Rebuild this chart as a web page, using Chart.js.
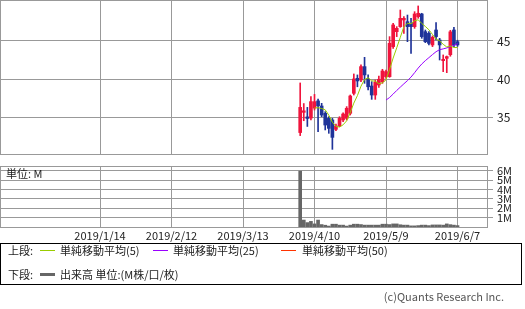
<!DOCTYPE html>
<html><head><meta charset="utf-8">
<script src="https://cdn.jsdelivr.net/npm/chart.js@4.4.0/dist/chart.umd.min.js"></script>
<style>
body{margin:0;background:#fff;width:525px;height:309px;overflow:hidden;position:relative;font-family:'Noto Sans CJK JP','Noto Sans',sans-serif;}
canvas{position:absolute;left:0;}
#c1{top:0}
#c2{top:160px}
.t{position:absolute;font-size:11px;line-height:13px;color:#222;white-space:nowrap;}
.ln{position:absolute;height:1px;}
#legend{position:absolute;left:0;top:243px;width:520px;height:40px;border:1px solid #000;}
</style></head><body>
<canvas id="c1" width="525" height="160"></canvas>
<canvas id="c2" width="525" height="85"></canvas>
<div class="t" style="left:6px;top:167px">単位: M</div>
<div id="legend"></div>
<div class="t" style="left:8px;top:244px">上段:</div>
<div class="ln" style="left:40px;top:250px;width:15px;background:#99cc00"></div>
<div class="t" style="left:60px;top:244px">単純移動平均(5)</div>
<div class="ln" style="left:153px;top:250px;width:15px;background:#9900ff"></div>
<div class="t" style="left:173px;top:244px">単純移動平均(25)</div>
<div class="ln" style="left:281px;top:250px;width:15px;background:#ff3300"></div>
<div class="t" style="left:302px;top:244px">単純移動平均(50)</div>
<div class="t" style="left:8px;top:268px">下段:</div>
<div class="ln" style="left:40px;top:273px;width:15px;height:3px;background:#666"></div>
<div class="t" style="left:60px;top:268px">出来高 単位:(M株/口/枚)</div>
<div class="t" style="right:21px;top:290px;color:#555">(c)Quants Research Inc.</div>
<script>
// ---- data ----
const tickIndex = [0, 20, 40, 60, 80, 100];
const tickLabels = ['2019/1/14', '2019/2/12', '2019/3/13', '2019/4/10', '2019/5/9', '2019/6/7'];
const priceTicks = [35, 40, 45];
const volumeTicks = [1, 2, 3, 4, 5, 6];
const firstIndex = 56;
const open  = [33.0,35.65,35.05,34.9,36.2,37.15,36.48,35.52,34.86,34.65,33.42,33.86,34.65,34.86,35.52,38.14,40.11,39.89,41.64,40.02,39.1,37.92,39.23,39.67,40.33,40.33,44.26,46.22,46.88,47.75,47.53,47.3,46.88,48.19,48.54,46.22,46.0,44.48,46.44,45.13,42.42,42.73,43.2,46.44,44.91];
const high  = [39.5,36.8,36.3,37.7,38.0,37.4,36.83,35.74,35.08,34.86,34.12,35.08,35.6,36.4,37.92,40.68,40.55,41.86,42.86,40.55,39.67,39.89,40.41,41.29,41.2,45.57,47.32,46.88,49.06,48.19,48.4,47.97,48.84,49.59,48.63,46.44,46.22,45.66,47.4,45.35,43.17,43.03,46.4,46.8,45.1];
const low   = [32.6,34.55,33.8,34.65,35.95,33.1,35.08,33.34,32.9,30.8,33.25,33.77,34.43,34.65,35.3,37.92,39.0,39.67,39.45,38.58,37.35,37.35,38.93,39.45,40.1,40.24,44.04,45.57,46.79,46.0,44.91,43.38,46.66,47.97,45.35,44.78,44.48,44.26,45.13,42.51,40.98,40.85,43.0,44.26,44.3];
const close = [36.3,35.85,34.85,37.05,37.05,36.5,35.3,33.99,33.55,32.37,33.86,34.86,35.43,36.18,37.79,40.02,39.76,41.64,40.55,39.0,37.92,39.58,39.98,41.07,40.98,44.69,47.1,46.66,47.97,47.97,46.88,46.88,48.54,48.63,45.57,44.91,44.69,45.48,45.57,44.48,42.6,42.95,46.2,44.48,44.48];
const volume = [5.95,0.74,0.47,0.6,0.33,0.74,0.26,0.19,0.1,0.3,0.3,0.2,0.2,0.1,0.2,0.3,0.3,0.26,0.2,0.2,0.2,0.2,0.2,0.3,0.3,0.26,0.33,0.33,0.24,0.2,0.2,0.12,0.12,0.15,0.2,0.2,0.15,0.22,0.22,0.22,0.2,0.33,0.25,0.2,0.15];

// ---- derived ----
const UP = '#f0143c', DOWN = '#1f3399', GRID = '#999999';
const idx = close.map((_, i) => firstIndex + i);
const colors = close.map((c, i) => c >= open[i] ? UP : DOWN);
function sma(n) {
  const out = [];
  for (let i = n - 1; i < close.length; i++) {
    let s = 0; for (let k = i - n + 1; k <= i; k++) s += close[k];
    out.push({x: idx[i], y: s / n});
  }
  return out;
}
Chart.defaults.font.family = "'Noto Sans CJK JP','Noto Sans',sans-serif";
Chart.defaults.font.size = 11;
Chart.defaults.color = '#222';

const PX = 3.575, X0 = 100;
function noPad(s) { s.paddingTop = 0; s.paddingBottom = 0; s.paddingLeft = 0; s.paddingRight = 0; }
function xScale(width, showLabels, h) {
  const min = -X0 / PX, max = min + width / PX;
  return {
    type: 'linear', min, max, offset: false,
    grid: {color: GRID, offset: false, drawTicks: false},
    border: {display: false},
    afterBuildTicks: s => { s.ticks = tickIndex.map(v => ({value: v})); },
    afterFit: s => { s.height = h; noPad(s); },
    ticks: {display: showLabels, autoSkip: false, maxRotation: 0, padding: 2,
      callback: v => { const k = tickIndex.indexOf(v); return k >= 0 ? tickLabels[k] : ''; }}
  };
}
const frame = {id: 'frame', beforeDatasetsDraw(c) {
  const a = c.chartArea, x = c.ctx; x.save(); x.strokeStyle = GRID; x.lineWidth = 1;
  x.strokeRect(Math.floor(a.left) + 0.5, Math.floor(a.top) + 0.5, Math.round(a.right - a.left), Math.round(a.bottom - a.top));
  x.restore(); }};

new Chart(document.getElementById('c1'), {
  type: 'bar',
  data: {datasets: [
    {type: 'line', data: sma(5), borderColor: '#99cc00', borderWidth: 1, pointRadius: 0, tension: 0, order: 0},
    {type: 'line', data: sma(25), borderColor: '#9900ff', borderWidth: 1, pointRadius: 0, tension: 0, order: 0},
    {type: 'line', data: sma(50), borderColor: '#ff3300', borderWidth: 1, pointRadius: 0, tension: 0, order: 0},
    {data: idx.map((x, i) => ({x, y: [Math.min(open[i], close[i]), Math.max(open[i], close[i])]})),
     backgroundColor: colors, barThickness: 3, grouped: false, borderWidth: 0, minBarLength: 1, order: 1},
    {data: idx.map((x, i) => ({x, y: [low[i], high[i]]})),
     backgroundColor: colors, barThickness: 1, grouped: false, borderWidth: 0, order: 2}
  ]},
  options: {
    responsive: false, animation: false, devicePixelRatio: 1,
    layout: {padding: 0},
    plugins: {legend: {display: false}, tooltip: {enabled: false}},
    scales: {
      x: xScale(487, false, 6),
      y: {position: 'right', min: 30.19, max: 50.37,
        grid: {color: GRID, drawTicks: true, tickLength: 6}, border: {display: false},
        afterBuildTicks: s => { s.ticks = priceTicks.map(v => ({value: v})); },
        afterFit: s => { s.width = 38; noPad(s); },
        ticks: {padding: 4, autoSkip: false, font: {size: 12}}}
    }
  },
  plugins: [frame]
});

new Chart(document.getElementById('c2'), {
  type: 'bar',
  data: {datasets: [
    {data: idx.map((x, i) => ({x, y: volume[i]})), backgroundColor: '#666666', barThickness: 3, borderWidth: 0}
  ]},
  options: {
    responsive: false, animation: false, devicePixelRatio: 1,
    layout: {padding: {top: 6}},
    plugins: {legend: {display: false}, tooltip: {enabled: false}},
    scales: {
      x: xScale(487, true, 18),
      y: {position: 'right', min: 0, max: 6.5,
        grid: {color: GRID, drawTicks: true, tickLength: 6}, border: {display: false},
        afterBuildTicks: s => { s.ticks = volumeTicks.map(v => ({value: v})); },
        afterFit: s => { s.width = 38; noPad(s); },
        ticks: {padding: 4, autoSkip: false, callback: v => v + 'M'}}
    }
  },
  plugins: [frame]
});
</script>
</body></html>
